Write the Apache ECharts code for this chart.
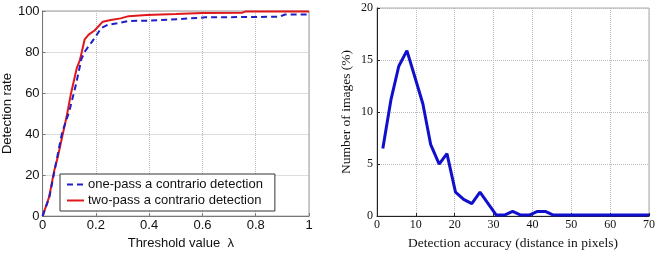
<!DOCTYPE html>
<html><head><meta charset="utf-8">
<script src="https://cdn.jsdelivr.net/npm/echarts@6/dist/echarts.min.js"></script>
<style>html,body{margin:0;padding:0;background:#fff}#c{width:661px;height:255px}</style>
</head><body><div id="c"></div>
<script>
// Left chart: detection rate vs threshold
const onePassX = [0, 0.025, 0.049, 0.073, 0.1, 0.125, 0.146, 0.16, 0.183, 0.2, 0.22, 0.244, 0.28, 0.323, 0.39, 0.44, 0.51, 0.61, 0.89, 0.91, 1.0];
const onePassY = [0, 9, 24.9, 40.6, 51, 64, 76.7, 80.5, 84.6, 87.7, 91.7, 93.2, 94, 95.1, 95.3, 95.6, 96, 96.9, 97.2, 98.3, 98.3];
const twoPassX = [0, 0.024, 0.043, 0.057, 0.09, 0.106, 0.128, 0.14, 0.158, 0.173, 0.195, 0.226, 0.256, 0.293, 0.323, 0.39, 0.5, 0.6, 0.75, 0.76, 1.0];
const twoPassY = [0, 9.1, 21.7, 28.8, 48.4, 59.4, 72, 76, 86.2, 88.5, 90.5, 94.8, 95.6, 96.4, 97.5, 98, 98.5, 99, 99.2, 99.7, 99.8];
const seriesNames = ['one-pass a contrario detection', 'two-pass a contrario detection'];
// Right chart: histogram of detection accuracy
const accX = [1.5, 3.6, 5.6, 7.7, 9.8, 11.8, 13.8, 16.0, 18.0, 20.2, 22.3, 24.4, 26.5, 28.6, 30.7, 32.8, 34.9, 37.0, 39.2, 41.3, 43.3, 45.4, 70];
const accY = [6.5, 11.2, 14.4, 15.9, 13.3, 10.8, 6.9, 5.0, 6.0, 2.3, 1.6, 1.2, 2.3, 1.2, 0.1, 0.1, 0.45, 0.1, 0.1, 0.45, 0.45, 0.1, 0.1];

const zip = (a, b) => a.map((v, i) => [v, b[i]]);
const sans = 'Liberation Sans';
const serif = 'Liberation Serif';
const grid = {type: 'dotted', color: '#bbb', width: 1};

const chart = echarts.init(document.getElementById('c'), null, {renderer: 'canvas'});
chart.setOption({
  animation: false,
  grid: [
    {left: 36, top: 11, width: 273, height: 212, show: true, borderColor: '#999', borderWidth: 1},
    {left: 377, top: 8, width: 272, height: 215, show: true, borderColor: '#aaa', borderWidth: 1}
  ],
  legend: {
    orient: 'vertical', left: 60, top: 174, width: 205,
    padding: [4, 12, 4, 6], itemGap: 3, itemWidth: 17, itemHeight: 14,
    borderColor: '#333', borderWidth: 1, backgroundColor: '#fff',
    itemStyle: {opacity: 0},
    textStyle: {fontFamily: sans, fontSize: 13, color: '#111', padding: [0, 0, 0, -1]},
    data: seriesNames
  },
  xAxis: [
    {gridIndex: 0, type: 'value', min: 0, max: 1, interval: 0.2,
     name: 'Threshold value  λ', nameLocation: 'middle', nameGap: 17,
     nameTextStyle: {fontFamily: sans, fontSize: 13, color: '#111', padding: [0, 0, 0, 10]},
     axisLine: {show: true, lineStyle: {color: '#777'}},
     axisTick: {show: true, inside: true, length: 3, lineStyle: {color: '#777'}},
     axisLabel: {fontFamily: sans, fontSize: 13, color: '#111', margin: 3},
     splitLine: {show: true, lineStyle: grid}},
    {gridIndex: 1, type: 'value', min: 0, max: 70, interval: 10,
     name: 'Detection accuracy (distance in pixels)', nameLocation: 'middle', nameGap: 16,
     nameTextStyle: {fontFamily: serif, fontSize: 13.5, color: '#111'},
     axisLine: {show: true, lineStyle: {color: '#222'}},
     axisTick: {show: true, inside: true, length: 3, lineStyle: {color: '#222'}},
     axisLabel: {fontFamily: serif, fontSize: 12, color: '#111', margin: 3},
     splitLine: {show: true, lineStyle: grid}}
  ],
  yAxis: [
    {gridIndex: 0, type: 'value', min: 0, max: 100, interval: 20,
     name: 'Detection rate', nameLocation: 'middle', nameGap: 26,
     nameTextStyle: {fontFamily: sans, fontSize: 13, color: '#111'},
     axisLine: {show: true, lineStyle: {color: '#777'}},
     axisTick: {show: true, inside: true, length: 3, lineStyle: {color: '#777'}},
     axisLabel: {fontFamily: sans, fontSize: 13, color: '#111', margin: 3},
     splitLine: {show: true, lineStyle: grid}},
    {gridIndex: 1, type: 'value', min: 0, max: 20, interval: 5,
     name: 'Number of images (%)', nameLocation: 'middle', nameGap: 24,
     nameTextStyle: {fontFamily: serif, fontSize: 13.5, color: '#111'},
     axisLine: {show: true, lineStyle: {color: '#222'}},
     axisTick: {show: true, inside: true, length: 3, lineStyle: {color: '#222'}},
     axisLabel: {fontFamily: serif, fontSize: 12, color: '#111', margin: 4},
     splitLine: {show: true, lineStyle: grid}}
  ],
  series: [
    {name: seriesNames[0], type: 'line', xAxisIndex: 0, yAxisIndex: 0, data: zip(onePassX, onePassY),
     showSymbol: false, symbol: 'none', color: '#1f1fc8',
     lineStyle: {color: '#1f1fc8', width: 2, type: [6, 4]}, z: 3},
    {name: seriesNames[1], type: 'line', xAxisIndex: 0, yAxisIndex: 0, data: zip(twoPassX, twoPassY),
     showSymbol: false, symbol: 'none', color: '#e0181c',
     lineStyle: {color: '#e0181c', width: 2}, z: 2},
    {name: 'accuracy', type: 'line', xAxisIndex: 1, yAxisIndex: 1, data: zip(accX, accY),
     showSymbol: false, symbol: 'none', clip: false, color: '#1010cc',
     lineStyle: {color: '#1010cc', width: 3}}
  ]
});
</script>
</body></html>
